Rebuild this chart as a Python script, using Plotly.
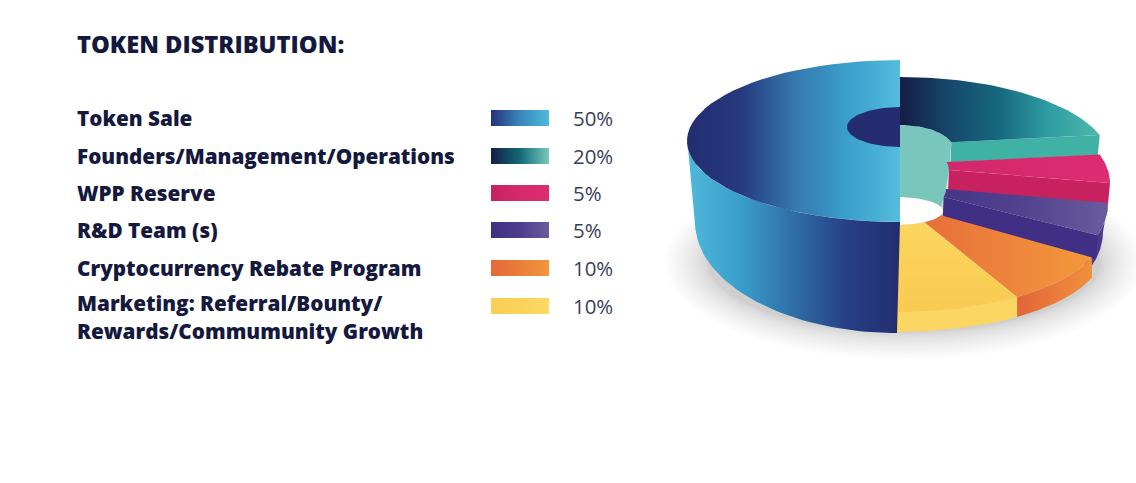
import numpy as np
import plotly.graph_objects as go

# Data
categories = [
    "Token Sale",
    "Founders/Management/Operations",
    "WPP Reserve",
    "R&D Team (s)",
    "Cryptocurrency Rebate Program",
    "Marketing: Referral/Bounty/",
]
category_second_line = [None, None, None, None, None, "Rewards/Commumunity Growth"]
shares = [50, 20, 5, 5, 10, 10]
share_labels = ["50%", "20%", "5%", "5%", "10%", "10%"]
legend_colors = [
    ["#25327a", "#3a86bb", "#4fbadc"],
    ["#151d45", "#136a78", "#78c8ba"],
    ["#c7215f", "#d62a6b", "#dd2c72"],
    ["#3f3084", "#4e3d8c", "#6a5a9e"],
    ["#e5693a", "#ea7d3a", "#f3973c"],
    ["#f9cf55", "#fbd35c", "#fbd964"],
]
title = "TOKEN DISTRIBUTION:"

INK = "#14193d"


def arc(cx, cy, rx, ry, a0, a1, n=50):
    t = np.radians(np.linspace(a0, a1, n))
    return cx + rx * np.cos(t), cy - ry * np.sin(t)


def scale(colors):
    return [[i / (len(colors) - 1), c] for i, c in enumerate(colors)]


def poly(fig, xs, ys, colors, name=None, direction="horizontal"):
    """Filled polygon: one colour, or a gradient for a list."""
    kw = dict(x=list(xs), y=list(ys), mode="lines", fill="toself",
              line=dict(width=0), hoverinfo="skip" if name is None else "name",
              name=name or "")
    if isinstance(colors, str):
        kw["fillcolor"] = colors
    else:
        kw["fillgradient"] = dict(type=direction, colorscale=scale(colors))
    fig.add_trace(go.Scatter(**kw))


def face(fig, outer, inner, a0, a1, colors, name=None, direction="horizontal"):
    ox, oy = arc(*outer, a0, a1)
    ix, iy = arc(*inner, a1, a0)
    poly(fig, np.r_[ox, ix], np.r_[oy, iy], colors, name, direction)


def cut(fig, outer, inner, a, depth, colors):
    ox, oy = arc(*outer, a, a, 1)
    ix, iy = arc(*inner, a, a, 1)
    poly(fig, [ix[0], ox[0], ox[0] - 2, ix[0] - 1], [iy[0], oy[0], oy[0] + depth, iy[0] + depth], colors)


def wall(fig, upper, lower, a0, a1, colors):
    ux, uy = arc(*upper, a0, a1)
    lx, ly = arc(*lower, a1, a0)
    poly(fig, np.r_[ux, lx], np.r_[uy, ly], colors)


def label(fig, x, y, text, size, weight, color):
    fig.add_annotation(x=x, y=y, text=text, xanchor="left", yanchor="middle", showarrow=False,
                       font=dict(family="Open Sans", size=size, weight=weight, color=color))


# slice angles, clockwise from the top; Token Sale takes the left half
ends = 90 - np.cumsum(np.array(shares[1:] + shares[:1]) * 3.6)
a_found, a_wpp, a_rd, a_rebate, a_market = ends[:5]

HOLE = (898, 211, 45, 14)
F_OUT, F_IN = (900, 161, 210, 84), (900, 150, 54, 25)
W_OUT, W_IN = (900, 183, 210, 92), (900, 170, 49, 26)
R_OUT, R_IN = (900, 203, 208, 104), (898, 189, 48, 26)
R_LOW = (898, 232, 205, 104)
L_OUT = (896, 233, 206, 79)
L_LOW = (896, 253, 206, 79)
T_OUT = (900, 141, 213, 81)
T_IN = (900, 127, 53, 20)
T_LOW = (897, 222, 202, 111)

fig = go.Figure()

# soft shadow under the pie, denser towards the middle
for k in range(24):
    step = (k / 23) ** 1.5
    sx, sy = arc(904, 262, 196 + step * 44, 70 + step * 28, 0, 360, 90)
    poly(fig, sx, sy, "rgba(55,60,95,0.0105)")

# hole seen through the middle
hx, hy = arc(*HOLE, 0, 360)
poly(fig, hx, hy, "#ffffff")

# Founders, with the pale inner wall of the hole
ix, iy = arc(*F_IN, 90, a_found)
wx, wy = arc(*W_IN, a_wpp, a_wpp, 1)
rx, ry = arc(*R_IN, a_wpp, a_wpp, 1)
bx, by = arc(*HOLE, a_found, 90)
poly(fig, np.r_[ix, wx, rx, bx], np.r_[iy, wy, ry, by], "#79c7bc")
cut(fig, F_OUT, F_IN, a_found, 20, "#40b1a5")
face(fig, F_OUT, F_IN, 90, a_found, ["#151d45", "#16486c", "#17697f", "#2f9ea3", "#4fb8ac"], categories[1])

# WPP Reserve
cut(fig, W_OUT, W_IN, a_wpp, 21, "#c7215f")
face(fig, W_OUT, W_IN, a_found, a_wpp, ["#d2286a", "#dc2c72"], categories[2])

# R&D Team
wall(fig, R_OUT, R_LOW, a_wpp, a_rd - 8, ["#44358a", "#4c3d90"])
cut(fig, R_OUT, R_IN, a_rd, 24, "#3f2f85")
face(fig, R_OUT, R_IN, a_wpp, a_rd, ["#463687", "#52438f", "#6a5a9e"], categories[3])

# Rebate and Marketing share the lower ellipse
wall(fig, L_OUT, L_LOW, a_rd, a_rebate, ["#e3653a", "#f0903c"])
face(fig, L_OUT, HOLE, a_rd, a_rebate, ["#e66f3a", "#ee843b", "#f3983c"], categories[4])
wall(fig, L_OUT, L_LOW, a_rebate, a_market, "#fbd663")
face(fig, L_OUT, HOLE, a_rebate, a_market, ["#f9ca50", "#fbd65f"], categories[5], "vertical")

# Token Sale, nearest to the viewer
tx, ty = arc(*T_OUT, 178, 270)
lx, ly = arc(*T_LOW, 270, 184)
poly(fig, np.r_[tx, lx], np.r_[ty, ly], ["#4fb9da", "#3a9ecb", "#2f6ea6", "#263f84", "#232d70"])
ox, oy = arc(*T_OUT, 90, 270)
poly(fig, ox, oy, ["#232d70", "#26397f", "#3578ae", "#3a9fcb", "#54bcdc"], categories[0])
hx, hy = arc(*T_IN, 90, 270)
poly(fig, hx, hy, "#232d70")

# legend rows
ROW_Y = [118, 156, 193, 230, 268, 306]
for cat, extra, text, colors, y in zip(categories, category_second_line, share_labels, legend_colors, ROW_Y):
    poly(fig, [491, 549, 549, 491], [y - 8, y - 8, y + 8, y + 8], colors)
    if extra:
        label(fig, 75, y - 3, cat, 20.7, 800, INK)
        label(fig, 75, y + 25, extra, 20.7, 800, INK)
    else:
        label(fig, 75, y - 0.5, cat, 20.7, 800, INK)
    label(fig, 571, y, text, 20.4, 400, "#3b3e58")

label(fig, 75, 43.5, title, 23.7, 800, INK)

fig.update_layout(
    width=1136,
    height=483,
    margin=dict(l=0, r=0, t=0, b=0),
    showlegend=False,
    plot_bgcolor="white",
    paper_bgcolor="white",
    xaxis=dict(range=[0, 1136], visible=False, fixedrange=True),
    yaxis=dict(range=[483, 0], visible=False, fixedrange=True),
)

fig.write_html("out.html", post_script="document.body.style.margin='0';", config=dict(displayModeBar=False))
